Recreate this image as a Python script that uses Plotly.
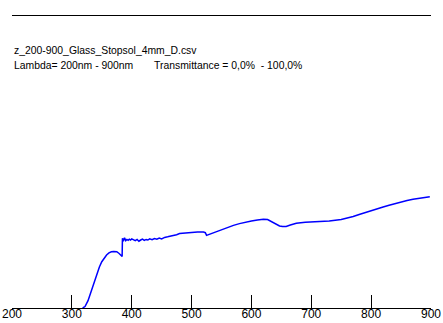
import plotly.graph_objects as go

wavelength_nm = [318, 322, 327, 333, 338, 342, 346, 350, 354, 358, 362, 366, 370, 375, 379, 381, 383, 384, 384.5,
                 386, 388, 390, 392, 394, 396, 398, 400, 403, 406, 409, 412, 415, 418, 421, 424, 427, 430, 434, 438,
                 442, 446, 450, 455, 460, 465, 470, 475, 480, 490, 500, 510, 520, 523, 525, 530, 540, 550, 560, 570,
                 580, 590, 600, 610, 620, 627, 633, 640, 647, 652, 658, 665, 675, 690, 710, 730, 750, 760, 770, 780,
                 790, 800, 810, 820, 830, 840, 850, 860, 870, 880, 890, 898]
transmittance_pct = [0, 0.5, 2.5, 6, 9.5, 12, 14, 15.8, 17, 18.1, 18.8, 19.2, 19.3, 19.2, 18.6, 18.2, 17.8, 17.6, 23.8,
                     22.8, 24.0, 23.0, 23.4, 23.1, 23.5, 23.2, 23.6, 23.3, 23.0, 23.4, 22.8, 23.2, 23.5, 23.1, 23.4, 23.2,
                     23.6, 23.3, 23.7, 23.5, 23.9, 23.6, 24.1, 24.3, 24.5, 24.8, 25.0, 25.4, 25.6, 25.8, 25.9, 25.9, 25.7,
                     24.8, 25.2, 26.0, 26.8, 27.6, 28.2, 28.8, 29.3, 29.7, 30.0, 30.3, 30.2, 29.6, 28.8, 28.0, 27.8, 27.8,
                     28.3, 28.9, 29.3, 29.5, 29.7, 30.2, 30.6, 31.2, 31.9, 32.6, 33.3, 33.9, 34.5, 35.1, 35.7, 36.2, 36.7,
                     37.1, 37.5, 37.8, 38.0]
tick_values = [200, 300, 400, 500, 600, 700, 800, 900]
title_line1 = "z_200-900_Glass_Stopsol_4mm_D.csv"
title_line2a = "Lambda= 200nm - 900nm"
title_line2b = "Transmittance = 0,0%\u00a0\u00a0- 100,0%"

FONT = "Liberation Sans, Arial, sans-serif"
TXT = 10.4

fig = go.Figure()
fig.add_trace(go.Scatter(x=wavelength_nm, y=transmittance_pct, mode="lines",
                         line=dict(color="#0000FF", width=1.5), hoverinfo="skip"))

fig.update_layout(
    width=443, height=323,
    margin=dict(l=12, r=12, t=15, b=15),
    paper_bgcolor="white", plot_bgcolor="white",
    showlegend=False,
    font=dict(family=FONT, size=TXT, color="black"),
    xaxis=dict(range=[200, 900], tickvals=tick_values, ticktext=[str(v) for v in tick_values],
               ticks="inside", ticklen=13, tickwidth=1, tickcolor="black",
               showline=True, linecolor="black", linewidth=1, showgrid=False, zeroline=False,
               automargin=False, ticklabelstandoff=-5,
               tickfont=dict(family=FONT, size=12, color="black")),
    yaxis=dict(range=[0, 100], visible=False, showgrid=False, zeroline=False, automargin=False),
    shapes=[dict(type="line", xref="paper", yref="paper", x0=0, x1=1, y0=1 - 0.5 / 293, y1=1 - 0.5 / 293,
                 line=dict(color="black", width=1))],
    annotations=[
        dict(text=title_line1, xref="paper", yref="paper", x=0, y=(308 - 50) / 293, xanchor="left", yanchor="middle",
             showarrow=False, font=dict(family=FONT, size=TXT, color="black")),
        dict(text=title_line2a, xref="paper", yref="paper", x=0, y=(308 - 65) / 293, xanchor="left", yanchor="middle",
             showarrow=False, font=dict(family=FONT, size=TXT, color="black")),
        dict(text=title_line2b, xref="paper", yref="paper", x=(152 - 12) / 419, y=(308 - 65) / 293, xanchor="left",
             yanchor="middle", showarrow=False, font=dict(family=FONT, size=TXT, color="black")),
    ],
)

fig.write_html("out.html", config={"displayModeBar": False},
               post_script="document.body.style.margin='0';document.body.style.overflow='hidden';")
